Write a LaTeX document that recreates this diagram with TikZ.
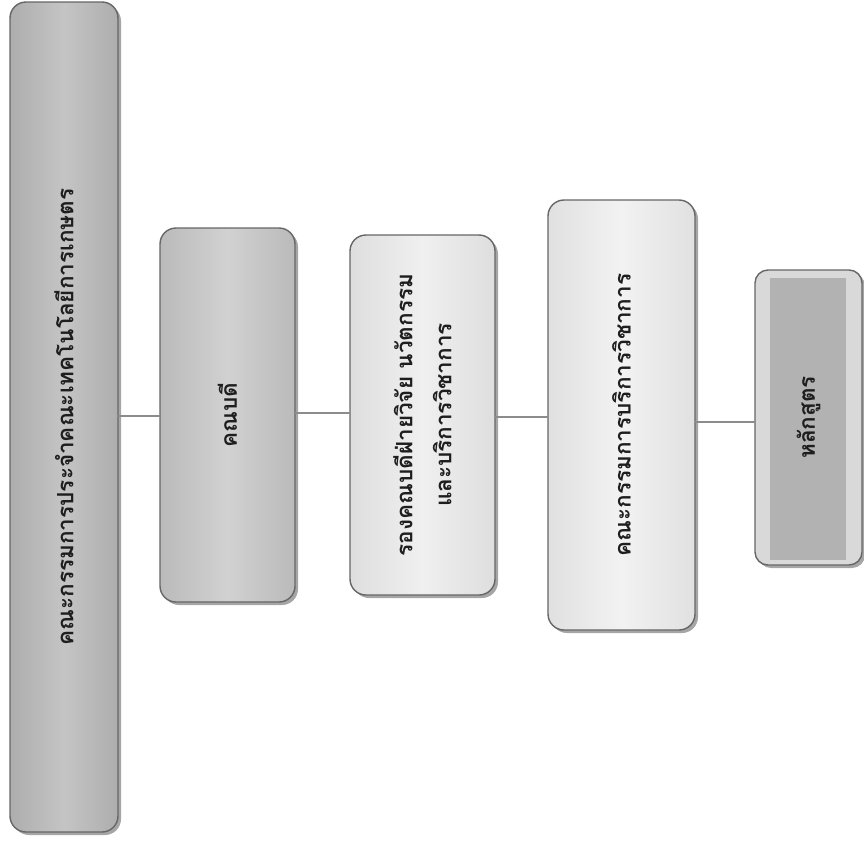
\documentclass[tikz,border=0pt]{standalone}
\usepackage{fontspec}
\newfontfamily\thaifont[Script=Thai]{Loma}
\usetikzlibrary{shadows}
\definecolor{edgegray}{HTML}{666666}
\definecolor{linegray}{HTML}{8C8C8C}
\definecolor{txt}{HTML}{1E1E1E}
\tikzset{
  orgbox/.style={draw=edgegray, line width=1.4pt, rounded corners=16pt,
    drop shadow={shadow xshift=3pt, shadow yshift=-3pt, fill=black, opacity=0.35},
    inner sep=0pt, outer sep=0pt},
  orgtext/.style={rotate=90, text=txt, font=\thaifont\bfseries\fontsize{22.5}{39}\selectfont, align=center},
  link/.style={draw=linegray, line width=1.3pt}
}
\begin{document}
\begin{tikzpicture}[x=1pt,y=-1pt]
\useasboundingbox (0,0) rectangle (864,841);
\fill[white] (0,0) rectangle (864,841);
% boxes
\node[orgbox, minimum width=108pt, minimum height=830pt,
  left color=gray!64, right color=gray!64, middle color=gray!46] (b1) at (64,417) {};
\node[orgbox, minimum width=135pt, minimum height=374pt,
  left color=gray!54, right color=gray!54, middle color=gray!36] (b2) at (227.5,415) {};
\node[orgbox, minimum width=145pt, minimum height=360pt,
  left color=gray!26, right color=gray!26, middle color=gray!12] (b3) at (422.5,415) {};
\node[orgbox, minimum width=147pt, minimum height=430pt,
  left color=gray!24, right color=gray!24, middle color=gray!10] (b4) at (621.5,415) {};
\node[orgbox, minimum width=107pt, minimum height=295pt, rounded corners=13pt,
  fill=gray!30] (b5) at (808.5,417.5) {};
\fill[gray!60] (770,278) rectangle (846,560);
% texts
\node[orgtext] (t1) at (b1.center) {คณะกรรมการประจำคณะเทคโนโลยีการเกษตร};
\node[orgtext] (t2) at (b2.center) {คณบดี};
\node[orgtext] (t3) at (b3.center) {รองคณบดีฝ่ายวิจัย นวัตกรรม\\และบริการวิชาการ};
\node[orgtext] (t4) at (b4.center) {คณะกรรมการบริการวิชาการ};
\node[orgtext] (t5) at (b5.center) {หลักสูตร};
% connectors
\coordinate (y1) at (0,416);
\coordinate (y2) at (0,413);
\coordinate (y3) at (0,417);
\coordinate (y4) at (0,422);
\draw[link] (b1.east |- y1) -- (b2.west |- y1);
\draw[link] (b2.east |- y2) -- (b3.west |- y2);
\draw[link] (b3.east |- y3) -- (b4.west |- y3);
\draw[link] (b4.east |- y4) -- (b5.west |- y4);
\end{tikzpicture}
\end{document}
